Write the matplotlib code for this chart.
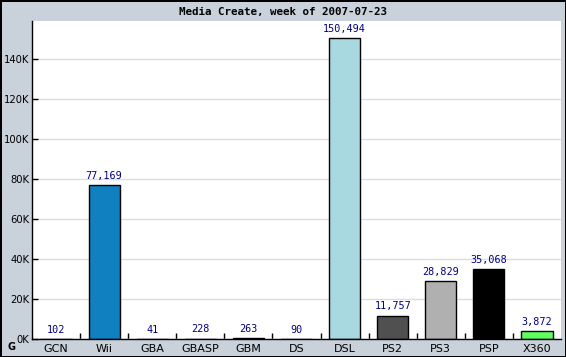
import matplotlib.pyplot as plt
import numpy as np
from matplotlib.ticker import FuncFormatter, MultipleLocator

# data
platforms = ['GCN', 'Wii', 'GBA', 'GBASP', 'GBM', 'DS', 'DSL', 'PS2', 'PS3', 'PSP', 'X360']
sales = [102, 77169, 41, 228, 263, 90, 150494, 11757, 28829, 35068, 3872]
colors = ['#8060a0', '#1080c0', '#6060c0', '#6070c0', '#303030', '#d0d0d0',
          '#a8d8e0', '#505050', '#b0b0b0', '#000000', '#60ff60']

title = "Media Create, week of 2007-07-23"

dpi = 100
bg = '#c9d1da'
fig = plt.figure(figsize=(566/dpi, 357/dpi), dpi=dpi, facecolor=bg,
                 edgecolor='black', linewidth=2)
ax = fig.add_axes([32/566, 18/357, 529/566, 318/357])

x = np.arange(len(platforms))
ax.bar(x, sales, width=0.65, color=colors, edgecolor='black', linewidth=1,
       zorder=3)

for xi, v in zip(x, sales):
    ax.annotate(f"{v:,}", (xi, v), xytext=(0, 3), textcoords='offset points',
                ha='center', va='bottom', color='#000080',
                family='DejaVu Sans Mono', fontsize=7.3, zorder=4)

ax.set_xlim(-0.5, len(platforms) - 0.5)
ax.set_ylim(0, 159200)
ax.yaxis.set_major_locator(MultipleLocator(20000))
ax.yaxis.set_major_formatter(FuncFormatter(lambda v, p: f"{int(v/1000)}K"))
ax.grid(axis='y', color='#dcdcdc', lw=1, zorder=0)

ax.set_xticks(x)
ax.set_xticklabels(platforms)
ax.set_xticks(x[:-1] + 0.5, minor=True)
ax.tick_params(axis='x', which='major', length=0, pad=3.5, labelsize=8)
ax.tick_params(axis='x', which='minor', direction='in', length=4, width=1)
ax.tick_params(axis='y', direction='in', length=4, width=1, pad=2, labelsize=7.2)

for s in ['top', 'right']:
    ax.spines[s].set_visible(False)
for s in ['left', 'bottom']:
    ax.spines[s].set_linewidth(1)
    ax.spines[s].set_zorder(5)

fig.text(0.5, 1 - 12/357, title, ha='center', va='center',
         family='DejaVu Sans Mono', fontweight='bold', fontsize=7.8)

# small logo in corner
fig.text(8/566, 1 - 347/357, 'G', ha='left', va='center', fontsize=7,
         fontweight='bold', color='black')

fig.savefig('out.png', dpi=dpi, facecolor=bg, edgecolor='black')
